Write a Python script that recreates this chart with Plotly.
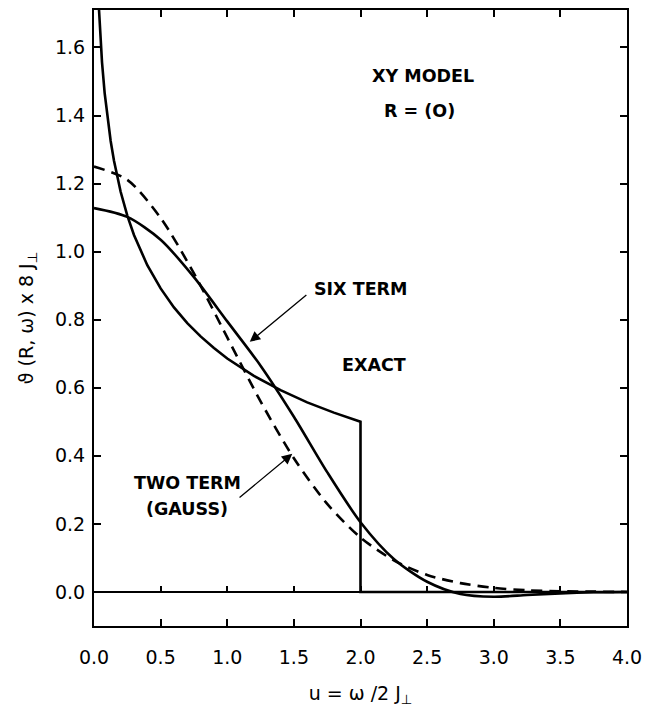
import plotly.graph_objects as go

# Reduced frequency u = omega / 2J and spectral weights (x 8J)
u_exact = [0.035, 0.04, 0.05, 0.06, 0.08, 0.10, 0.125, 0.15, 0.20, 0.25, 0.30,
           0.40, 0.50, 0.60, 0.70, 0.80, 0.90, 1.00, 1.20, 1.40, 1.60, 1.80,
           1.90, 2.00, 2.00, 4.00]
exact = [1.729, 1.687, 1.615, 1.557, 1.466, 1.395, 1.325, 1.267, 1.176, 1.106,
         1.049, 0.960, 0.892, 0.836, 0.790, 0.751, 0.717, 0.686, 0.635, 0.593,
         0.557, 0.527, 0.513, 0.500, 0.000, 0.000]

u_grid = [0.0, 0.25, 0.5, 0.75, 1.0, 1.25, 1.5, 1.75, 2.0, 2.25, 2.5, 2.75,
          3.0, 3.25, 3.5, 3.75, 4.0]
six_term = [1.128, 1.102, 1.035, 0.925, 0.795, 0.665, 0.515, 0.352, 0.205,
            0.097, 0.030, -0.006, -0.014, -0.009, -0.004, -0.001, 0.000]
two_term = [1.250, 1.211, 1.099, 0.936, 0.748, 0.560, 0.393, 0.259, 0.160,
            0.093, 0.050, 0.026, 0.012, 0.005, 0.002, 0.001, 0.000]

x_ticks = [0.0, 0.5, 1.0, 1.5, 2.0, 2.5, 3.0, 3.5, 4.0]
y_ticks = [0.0, 0.2, 0.4, 0.6, 0.8, 1.0, 1.2, 1.4, 1.6]
x_range = [0.0, 4.0]
y_range = [-0.1, 1.71]

INK = "black"
TICK_FONT = dict(family="DejaVu Sans", size=19, color=INK)
LABEL_FONT = dict(family="DejaVu Sans", size=17.5, color=INK, weight="bold")
TITLE_FONT = dict(family="DejaVu Sans", size=19, color=INK)

fig = go.Figure()

fig.add_trace(go.Scatter(x=u_exact, y=exact, mode="lines",
                         line=dict(color=INK, width=2.6), name="Exact"))
fig.add_trace(go.Scatter(x=u_grid, y=six_term, mode="lines",
                         line=dict(color=INK, width=2.6, shape="spline", smoothing=0.8),
                         name="Six term"))
fig.add_trace(go.Scatter(x=u_grid, y=two_term, mode="lines",
                         line=dict(color=INK, width=2.6, dash="11px,7px",
                                   shape="spline", smoothing=0.8),
                         name="Two term (Gauss)"))
# carrier trace for the tick row drawn along the zero line
fig.add_trace(go.Scatter(x=[x_range[0]], y=[0], xaxis="x2", mode="markers",
                         marker=dict(opacity=0), hoverinfo="skip", showlegend=False))

axis_common = dict(showline=True, linecolor=INK, linewidth=2, mirror="ticks",
                   ticks="inside", ticklen=7, tickwidth=1.5, tickcolor=INK,
                   showgrid=False, tickfont=TICK_FONT, tickformat=".1f")

fig.update_layout(
    width=650, height=712,
    margin=dict(l=94, r=22, t=8, b=86),
    paper_bgcolor="white", plot_bgcolor="white",
    showlegend=False,
    xaxis=dict(range=x_range, tickvals=x_ticks, zeroline=False,
               ticklabelstandoff=13,
               title=dict(text="u = ω /2 J<sub>⊥</sub>", standoff=20,
                          font=TITLE_FONT),
               **axis_common),
    yaxis=dict(range=y_range, tickvals=y_ticks, zeroline=True,
               zerolinecolor=INK, zerolinewidth=2,
               ticklabelstandoff=3,
               title=dict(text="ϑ (R, ω) x 8 J<sub>⊥</sub>", standoff=16,
                          font=TITLE_FONT),
               **axis_common),
    xaxis2=dict(overlaying="x", matches="x", anchor="free",
                position=(0 - y_range[0]) / (y_range[1] - y_range[0]),
                side="top", ticks="outside", ticklen=6, tickwidth=1.5,
                tickcolor=INK, tickvals=x_ticks[1:-1], showticklabels=False,
                showline=False, showgrid=False, zeroline=False),
)

# text labels
labels = [
    ("XY MODEL", 2.47, 1.517),
    ("R = (O)", 2.44, 1.414),
    ("SIX TERM", 2.00, 0.890),
    ("EXACT", 2.105, 0.668),
    ("TWO TERM", 0.70, 0.319),
    ("(GAUSS)", 0.70, 0.243),
]
for txt, lx, ly in labels:
    fig.add_annotation(x=lx, y=ly, text=txt, showarrow=False, font=LABEL_FONT,
                       xanchor="center", yanchor="middle")

# pointer arrows: (tail x, tail y, head x, head y)
arrows = [
    (1.605, 0.876, 1.169, 0.735),
    (1.081, 0.274, 1.488, 0.406),
]
for tx, ty, hx, hy in arrows:
    fig.add_annotation(x=hx, y=hy, ax=tx, ay=ty, xref="x", yref="y",
                       axref="x", ayref="y", text="", showarrow=True,
                       arrowhead=2, arrowsize=1.6, arrowwidth=1.3,
                       arrowcolor=INK, standoff=0)

fig.write_html("out.html")
